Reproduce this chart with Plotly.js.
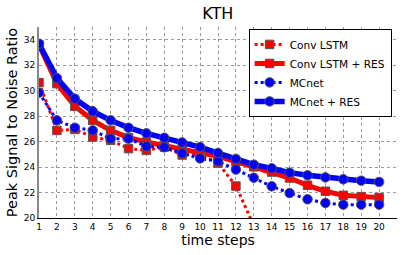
<!DOCTYPE html>
<html>
<head>
<meta charset="utf-8">
<script src="https://cdn.plot.ly/plotly-3.0.1.min.js"></script>
<style>html,body{margin:0;padding:0;background:#fff;}#chart{width:407px;height:255px;}</style>
</head>
<body>
<div id="chart"></div>
<script>
const timeSteps = [1,2,3,4,5,6,7,8,9,10,11,12,13,14,15,16,17,18,19,20];
const convLstm = [30.63,26.88,26.96,26.36,26.1,25.45,25.31,25.57,24.95,25.0,24.32,22.51,19.4];
const convLstmRes = [33.6,30.55,28.77,27.67,26.88,26.31,25.97,25.68,25.35,25.08,24.84,24.42,24.02,23.61,23.14,22.57,22.1,21.78,21.68,21.6];
const mcnet = [29.84,27.67,27.09,26.88,26.23,26.23,25.63,25.55,25.08,24.68,24.45,23.8,23.16,22.49,21.96,21.47,21.18,21.05,21.05,21.05];
const mcnetRes = [33.69,30.99,29.37,28.38,27.67,27.09,26.65,26.3,25.93,25.57,25.1,24.64,24.19,23.9,23.56,23.35,23.19,23.04,22.93,22.83];
const seriesNames = ['Conv LSTM','Conv LSTM + RES','MCnet','MCnet + RES'];
const xTickVals = timeSteps;
const yTickVals = [20,22,24,26,28,30,32,34];

const RED = '#ff0000', BLUE = '#0000ff';
const traces = [
  {x: timeSteps.slice(0, convLstm.length), y: convLstm, name: seriesNames[0], mode:'lines+markers',
   line:{color:RED, width:3, dash:'dot'}, marker:{symbol:'square', size:8.5, color:RED, line:{color:'#555', width:1}}},
  {x: timeSteps, y: convLstmRes, name: seriesNames[1], mode:'lines+markers',
   line:{color:RED, width:5}, marker:{symbol:'square', size:8.5, color:RED, line:{color:'#555', width:1}}},
  {x: timeSteps, y: mcnet, name: seriesNames[2], mode:'lines+markers',
   line:{color:BLUE, width:3, dash:'dot'}, marker:{symbol:'circle', size:9.5, color:BLUE, line:{color:'#555', width:1}}},
  {x: timeSteps, y: mcnetRes, name: seriesNames[3], mode:'lines+markers',
   line:{color:BLUE, width:5.5}, marker:{symbol:'circle', size:9.5, color:BLUE, line:{color:'#555', width:1}}}
];

const layout = {
  width:407, height:255,
  margin:{l:39, r:10, t:27, b:37},
  paper_bgcolor:'#fff', plot_bgcolor:'#fff',
  font:{family:'DejaVu Sans, sans-serif', color:'#000'},
  title:{text:'KTH', font:{size:16, family:'DejaVu Sans, sans-serif'}, x:0.535, xanchor:'center', y:0.97, yanchor:'top'},
  showlegend:true,
  legend:{x:0.985, xanchor:'right', y:0.99, yanchor:'top', bgcolor:'#fff', bordercolor:'#000', borderwidth:1,
    font:{size:10.6}, tracegroupgap:0, itemwidth:30},
  xaxis:{range:[1,21], tickvals:xTickVals, ticktext:xTickVals.map(String), tickfont:{size:9},
    showgrid:true, gridcolor:'#999', griddash:'dot', gridwidth:1, zeroline:false,
    showline:true, linecolor:'#000', linewidth:1, ticks:'', ticklen:0,
    title:{text:'time steps', font:{size:14}, standoff:4}},
  yaxis:{range:[20,35], tickvals:yTickVals, tickfont:{size:9},
    showgrid:true, gridcolor:'#999', griddash:'dot', gridwidth:1, zeroline:false,
    showline:true, linecolor:'#888', linewidth:2, ticks:'', ticklen:0,
    title:{text:'Peak Signal to Noise Ratio', font:{size:14.5}, standoff:3}}
};
Plotly.newPlot('chart', traces, layout, {displayModeBar:false, staticPlot:true});
</script>
</body>
</html>
